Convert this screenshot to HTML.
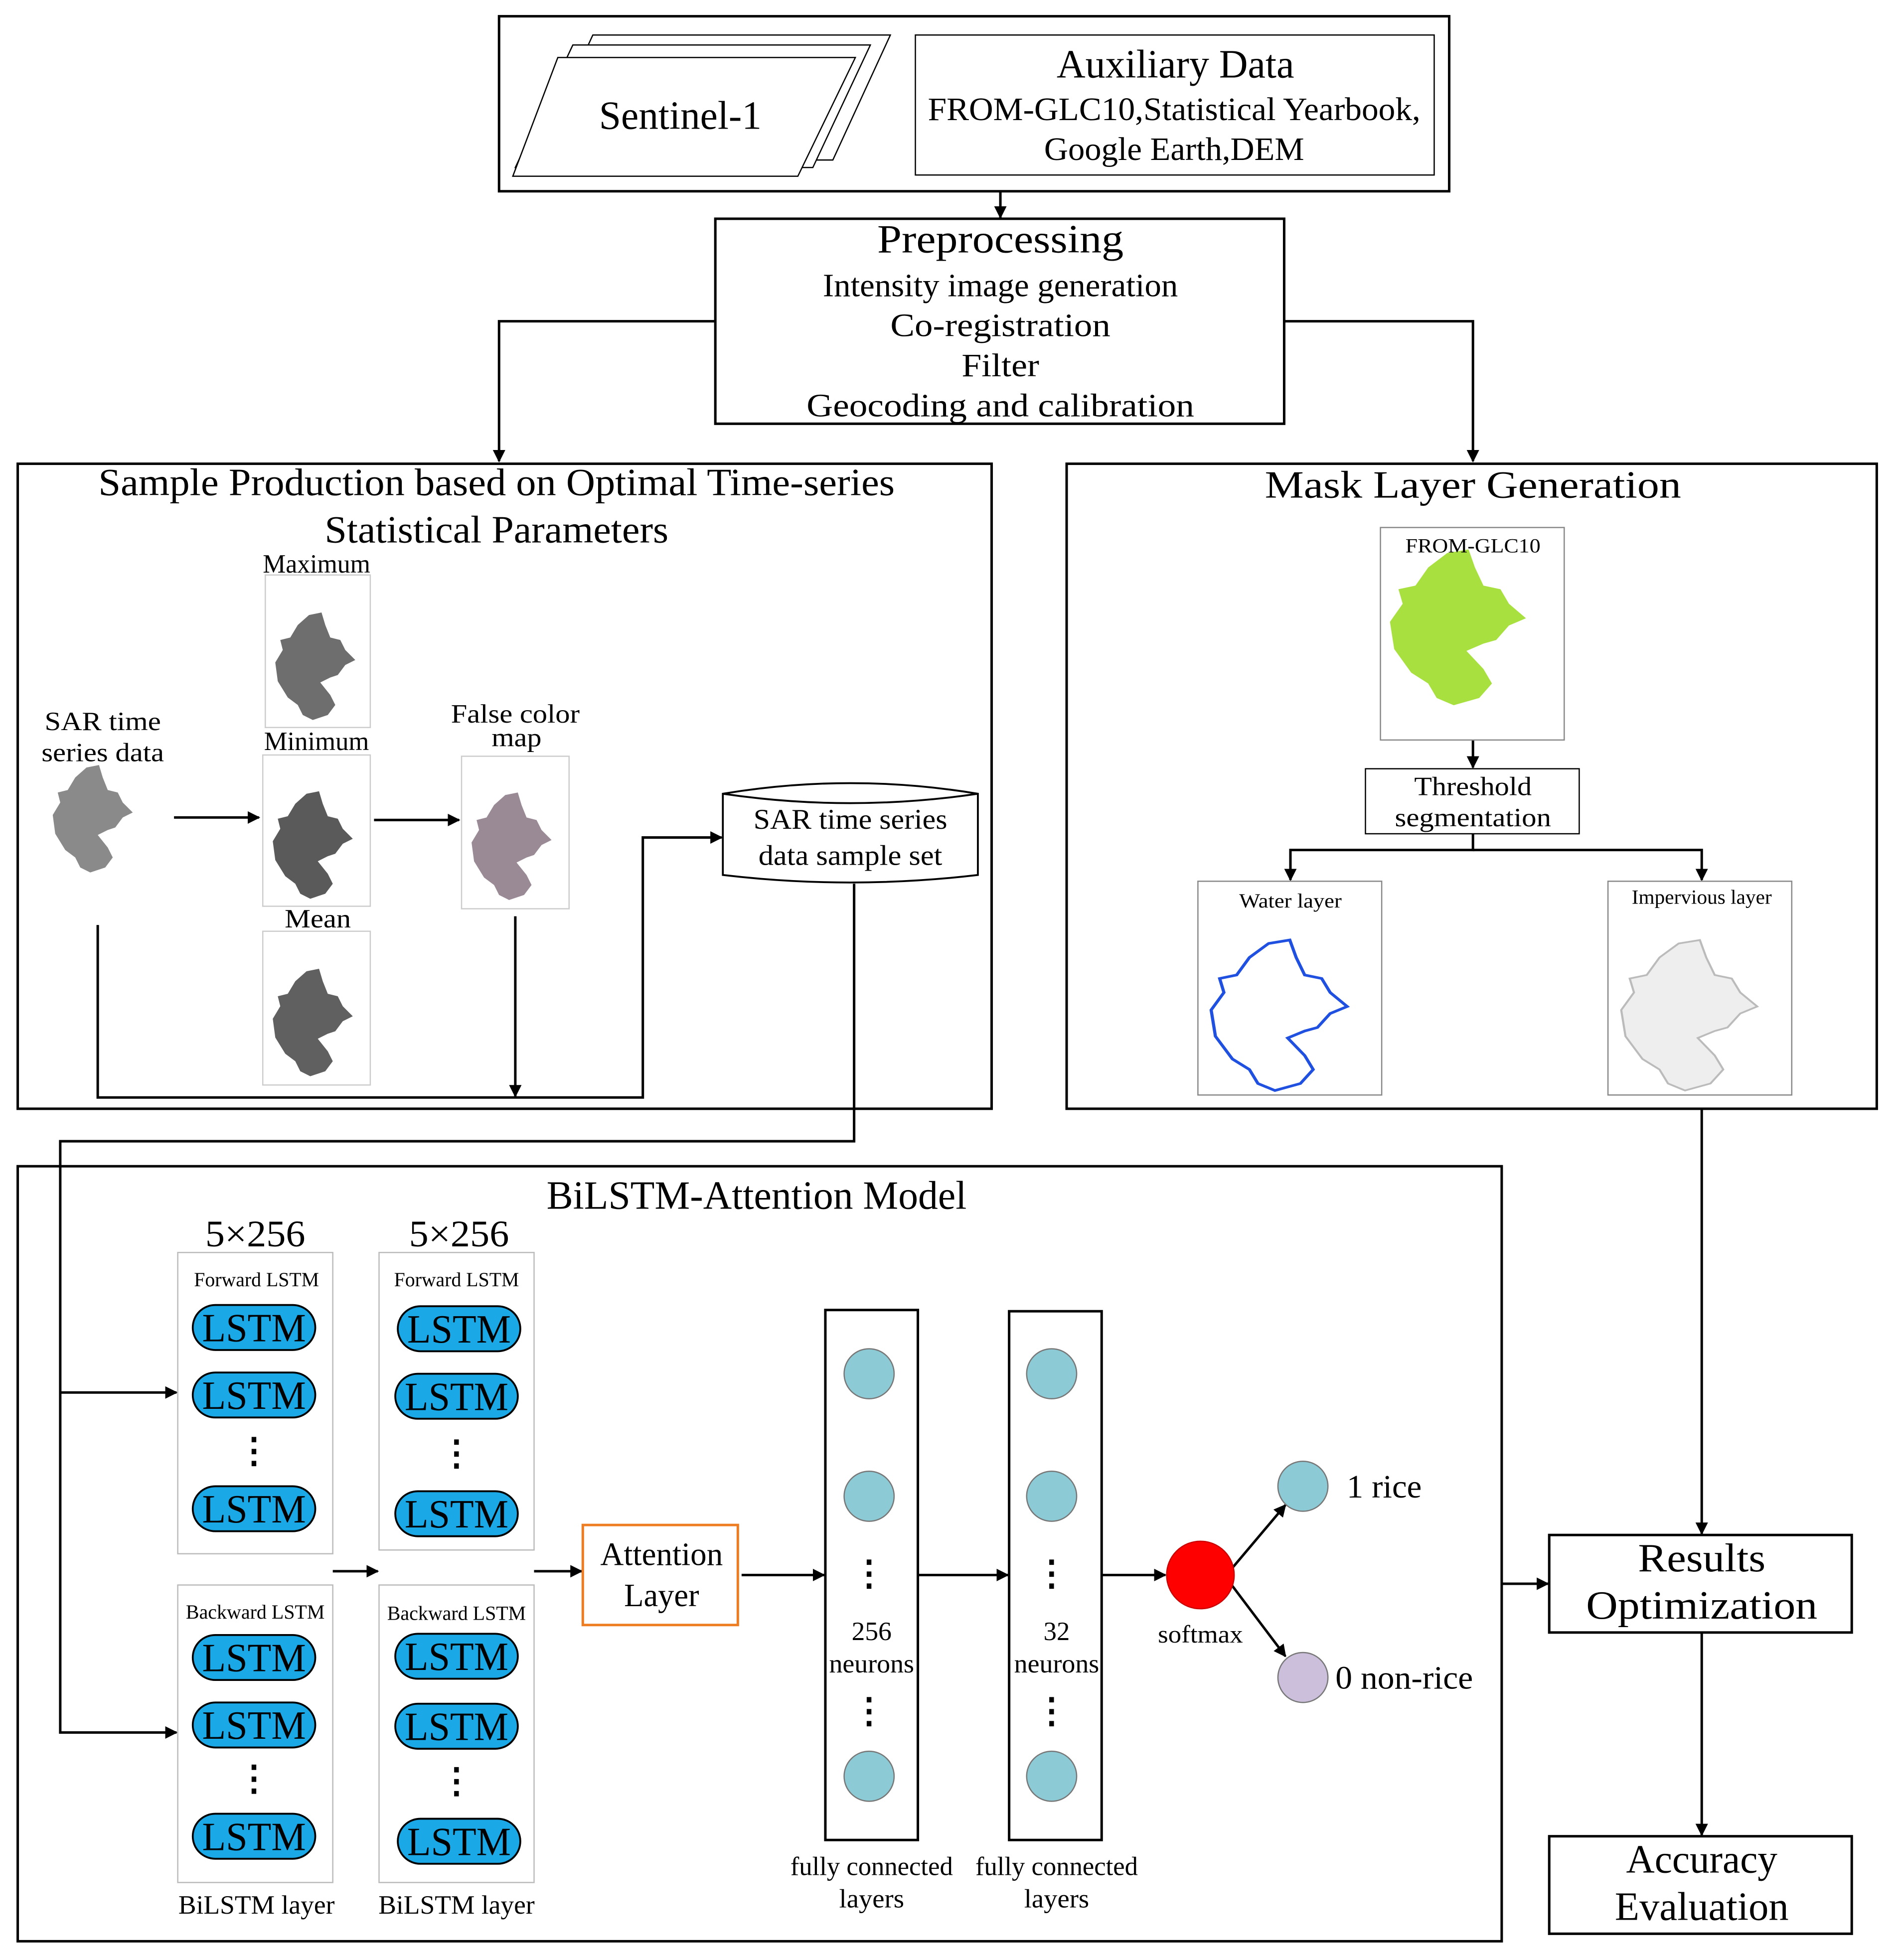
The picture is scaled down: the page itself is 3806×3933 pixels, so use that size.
<!DOCTYPE html>
<html><head><meta charset="utf-8"><style>
html,body{margin:0;padding:0;background:#fff}
svg{display:block}
text{font-family:"Liberation Serif","Times New Roman",serif;fill:#000}
</style></head><body>
<svg width="3806" height="3933" viewBox="0 0 1517 1568" xmlns="http://www.w3.org/2000/svg">
<defs>
<marker id="ar" markerWidth="10" markerHeight="10" refX="9" refY="5" orient="auto" markerUnits="userSpaceOnUse"><path d="M0,0 L10,5 L0,10 Z" fill="#000"/></marker>
<path id="map" d="M35,32 L45,30 L48,40 L52,50 L60,52 L64,60 L72,68 L64,72 L58,80 L52,82 L44,86 L52,96 L56,104 L50,112 L38,116 L30,112 L26,104 L18,98 L10,85 L8,70 L14,60 L12,52 L20,50 L26,40 Z"/>
</defs>
<rect width="1517" height="1568" fill="#fff"/>
<g fill="none" stroke="#000" stroke-width="2">
<rect x="399" y="13" width="760" height="140"/>
<polygon points="474,28 712,28 666,128 428,128" fill="#fff" stroke-width="1"/>
<polygon points="458,36 696,36 650,134 412,134" fill="#fff" stroke-width="1"/>
<polygon points="446,46 684,46 638,141 410,141" fill="#fff" stroke-width="1"/>
<rect x="732" y="28" width="415" height="112" stroke-width="1"/>
<rect x="572" y="175" width="455" height="164"/>
<rect x="14" y="371" width="779" height="516"/>
<rect x="853" y="371" width="648" height="516"/>
<rect x="14" y="933" width="1187" height="620"/>
<rect x="1239" y="1228" width="242" height="78"/>
<rect x="1239" y="1469" width="242" height="78"/>
<rect x="1092" y="615" width="171" height="52" stroke-width="1"/>
<rect x="660" y="1048" width="74" height="424"/>
<rect x="807" y="1049" width="74" height="423"/>
</g>
<g fill="none" stroke="#000" stroke-width="2" marker-end="url(#ar)">
<path d="M800,153 V174"/>
<path d="M572,257 H399 V369"/>
<path d="M1027,257 H1178 V369"/>
<path d="M139,654 H207"/>
<path d="M299,656 H367"/>
<path d="M78,740 V878 H514 V670 H577"/>
<path d="M412,733 V877"/>
<path d="M683,707 V913 H48 V1386 H141"/>
<path d="M48,1114 H141"/>
<path d="M266,1257 H302"/>
<path d="M427,1257 H465"/>
<path d="M593,1260 H659"/>
<path d="M734,1260 H806"/>
<path d="M881,1260 H932"/>
<path d="M985,1255 L1028,1204"/>
<path d="M985,1268 L1028,1325"/>
<path d="M1361,887 L1361,1227"/>
<path d="M1201,1267 H1238"/>
<path d="M1361,1306 V1468"/>
<path d="M1178,592 V614"/>
<path d="M1178,667 V680 H1032 V704"/>
<path d="M1178,680 H1361 V704"/>
</g>
<path d="M578,635 Q680,618 782,635 V700 Q680,712 578,700 Z" fill="#fff" stroke="#000" stroke-width="1.5"/>
<path d="M578,635 Q680,650 782,635" fill="none" stroke="#000" stroke-width="1.5"/>
<g stroke="#ccc" stroke-width="1" fill="#fff">
<rect x="212" y="460" width="84" height="122"/>
<rect x="210" y="604" width="86" height="121"/>
<rect x="210" y="745" width="86" height="123"/>
<rect x="369" y="605" width="86" height="122"/>
<rect x="1104" y="422" width="147" height="170" stroke="#888"/>
<rect x="958" y="705" width="147" height="171" stroke="#888"/>
<rect x="1286" y="705" width="147" height="171" stroke="#888"/>
</g>
<use href="#map" transform="translate(212,460)" fill="#6e6e6e"/>
<use href="#map" transform="translate(210,603)" fill="#5a5a5a"/>
<use href="#map" transform="translate(210,745)" fill="#606060"/>
<use href="#map" transform="translate(369,604)" fill="#9a8a95"/>
<use href="#map" transform="translate(34,582)" fill="#8a8a8a"/>
<use href="#map" transform="translate(1098,396) scale(1.7,1.45)" fill="#a8e040"/>
<use href="#map" transform="translate(955,710) scale(1.7,1.4)" fill="none" stroke="#2050e0" stroke-width="1.5"/>
<use href="#map" transform="translate(1283,710) scale(1.7,1.4)" fill="#eee" stroke="#bbb" stroke-width="1"/>
<g fill="#fff" stroke="#bbb" stroke-width="1">
<rect x="142" y="1002" width="124" height="241"/>
<rect x="303" y="1002" width="124" height="238"/>
<rect x="142" y="1268" width="124" height="238"/>
<rect x="303" y="1268" width="124" height="238"/>
</g>
<g fill="#1aa8e6" stroke="#000" stroke-width="1.5">
<rect x="154" y="1044" width="98" height="36" rx="18"/>
<rect x="154" y="1098" width="98" height="36" rx="18"/>
<rect x="154" y="1189" width="98" height="36" rx="18"/>
<rect x="318" y="1045" width="98" height="36" rx="18"/>
<rect x="316" y="1099" width="98" height="36" rx="18"/>
<rect x="316" y="1193" width="98" height="36" rx="18"/>
<rect x="154" y="1308" width="98" height="36" rx="18"/>
<rect x="154" y="1362" width="98" height="36" rx="18"/>
<rect x="154" y="1451" width="98" height="36" rx="18"/>
<rect x="316" y="1307" width="98" height="36" rx="18"/>
<rect x="316" y="1363" width="98" height="36" rx="18"/>
<rect x="318" y="1455" width="98" height="36" rx="18"/>
</g>
<g font-size="32" text-anchor="middle">
<text x="203" y="1073" textLength="83" lengthAdjust="spacingAndGlyphs">LSTM</text><text x="203" y="1127" textLength="83" lengthAdjust="spacingAndGlyphs">LSTM</text><text x="203" y="1218" textLength="83" lengthAdjust="spacingAndGlyphs">LSTM</text>
<text x="367" y="1074" textLength="83" lengthAdjust="spacingAndGlyphs">LSTM</text><text x="365" y="1128" textLength="83" lengthAdjust="spacingAndGlyphs">LSTM</text><text x="365" y="1222" textLength="83" lengthAdjust="spacingAndGlyphs">LSTM</text>
<text x="203" y="1337" textLength="83" lengthAdjust="spacingAndGlyphs">LSTM</text><text x="203" y="1391" textLength="83" lengthAdjust="spacingAndGlyphs">LSTM</text><text x="203" y="1480" textLength="83" lengthAdjust="spacingAndGlyphs">LSTM</text>
<text x="365" y="1336" textLength="83" lengthAdjust="spacingAndGlyphs">LSTM</text><text x="365" y="1392" textLength="83" lengthAdjust="spacingAndGlyphs">LSTM</text><text x="367" y="1484" textLength="83" lengthAdjust="spacingAndGlyphs">LSTM</text>
</g>
<g font-size="28" text-anchor="middle" font-weight="bold">
<text x="203" y="1170">⋮</text><text x="365" y="1172">⋮</text><text x="203" y="1432">⋮</text><text x="365" y="1434">⋮</text>
<text x="695" y="1268">⋮</text><text x="695" y="1378">⋮</text><text x="841" y="1268">⋮</text><text x="841" y="1378">⋮</text>
</g>
<rect x="466" y="1220" width="124" height="80" fill="#fff" stroke="#ee7d22" stroke-width="2"/>
<g fill="#8ccbd6" stroke="#777" stroke-width="1">
<circle cx="695" cy="1099" r="20"/><circle cx="695" cy="1197" r="20"/><circle cx="695" cy="1421" r="20"/>
<circle cx="841" cy="1099" r="20"/><circle cx="841" cy="1197" r="20"/><circle cx="841" cy="1421" r="20"/>
<circle cx="1042" cy="1189" r="20"/>
</g>
<circle cx="1042" cy="1342" r="20" fill="#cbbfdc" stroke="#777"/>
<circle cx="960" cy="1260" r="27" fill="#ff0000" stroke="#c00"/>
<g text-anchor="middle">
<text x="544" y="103" font-size="32" textLength="130" lengthAdjust="spacingAndGlyphs">Sentinel-1</text>
<text x="940" y="62" font-size="32" textLength="190" lengthAdjust="spacingAndGlyphs">Auxiliary Data</text>
<text x="939" y="96" font-size="26" textLength="394" lengthAdjust="spacingAndGlyphs">FROM-GLC10,Statistical Yearbook,</text>
<text x="939" y="128" font-size="26" textLength="208" lengthAdjust="spacingAndGlyphs">Google Earth,DEM</text>
<text x="800" y="202" font-size="32" textLength="197" lengthAdjust="spacingAndGlyphs">Preprocessing</text>
<text x="800" y="237" font-size="26" textLength="284" lengthAdjust="spacingAndGlyphs">Intensity image generation</text>
<text x="800" y="269" font-size="26" textLength="176" lengthAdjust="spacingAndGlyphs">Co-registration</text>
<text x="800" y="301" font-size="26" textLength="62" lengthAdjust="spacingAndGlyphs">Filter</text>
<text x="800" y="333" font-size="26" textLength="310" lengthAdjust="spacingAndGlyphs">Geocoding and calibration</text>
<text x="397" y="396" font-size="31" textLength="637" lengthAdjust="spacingAndGlyphs">Sample Production based on Optimal Time-series</text>
<text x="397" y="434" font-size="31" textLength="275" lengthAdjust="spacingAndGlyphs">Statistical Parameters</text>
<text x="1178" y="398" font-size="31" textLength="333" lengthAdjust="spacingAndGlyphs">Mask Layer Generation</text>
<text x="253" y="458" font-size="21" textLength="86" lengthAdjust="spacingAndGlyphs">Maximum</text>
<text x="253" y="600" font-size="21" textLength="84" lengthAdjust="spacingAndGlyphs">Minimum</text>
<text x="254" y="742" font-size="21" textLength="53" lengthAdjust="spacingAndGlyphs">Mean</text>
<text x="82" y="584" font-size="21" textLength="93" lengthAdjust="spacingAndGlyphs">SAR time</text>
<text x="82" y="609" font-size="21" textLength="98" lengthAdjust="spacingAndGlyphs">series data</text>
<text x="412" y="578" font-size="21" textLength="103" lengthAdjust="spacingAndGlyphs">False color</text>
<text x="413" y="597" font-size="21" textLength="40" lengthAdjust="spacingAndGlyphs">map</text>
<text x="680" y="663" font-size="23" textLength="155" lengthAdjust="spacingAndGlyphs">SAR time series</text>
<text x="680" y="692" font-size="23" textLength="147" lengthAdjust="spacingAndGlyphs">data sample set</text>
<text x="1178" y="442" font-size="16" textLength="108" lengthAdjust="spacingAndGlyphs">FROM-GLC10</text>
<text x="1178" y="636" font-size="21" textLength="94" lengthAdjust="spacingAndGlyphs">Threshold</text>
<text x="1178" y="661" font-size="21" textLength="125" lengthAdjust="spacingAndGlyphs">segmentation</text>
<text x="1032" y="726" font-size="16" textLength="82" lengthAdjust="spacingAndGlyphs">Water layer</text>
<text x="1361" y="723" font-size="16" textLength="112" lengthAdjust="spacingAndGlyphs">Impervious layer</text>
<text x="605" y="967" font-size="32" textLength="336" lengthAdjust="spacingAndGlyphs">BiLSTM-Attention Model</text>
<text x="204" y="997" font-size="30" textLength="80" lengthAdjust="spacingAndGlyphs">5×256</text>
<text x="367" y="997" font-size="30" textLength="80" lengthAdjust="spacingAndGlyphs">5×256</text>
<text x="205" y="1029" font-size="16" textLength="100" lengthAdjust="spacingAndGlyphs">Forward LSTM</text>
<text x="365" y="1029" font-size="16" textLength="100" lengthAdjust="spacingAndGlyphs">Forward LSTM</text>
<text x="204" y="1295" font-size="16" textLength="111" lengthAdjust="spacingAndGlyphs">Backward LSTM</text>
<text x="365" y="1296" font-size="16" textLength="111" lengthAdjust="spacingAndGlyphs">Backward LSTM</text>
<text x="205" y="1531" font-size="21" textLength="125" lengthAdjust="spacingAndGlyphs">BiLSTM layer</text>
<text x="365" y="1531" font-size="21" textLength="125" lengthAdjust="spacingAndGlyphs">BiLSTM layer</text>
<text x="529" y="1252" font-size="26" textLength="98" lengthAdjust="spacingAndGlyphs">Attention</text>
<text x="529" y="1285" font-size="26" textLength="60" lengthAdjust="spacingAndGlyphs">Layer</text>
<text x="697" y="1312" font-size="21" textLength="32" lengthAdjust="spacingAndGlyphs">256</text>
<text x="697" y="1338" font-size="21" textLength="68" lengthAdjust="spacingAndGlyphs">neurons</text>
<text x="845" y="1312" font-size="21" textLength="21" lengthAdjust="spacingAndGlyphs">32</text>
<text x="845" y="1338" font-size="21" textLength="68" lengthAdjust="spacingAndGlyphs">neurons</text>
<text x="697" y="1500" font-size="21" textLength="130" lengthAdjust="spacingAndGlyphs">fully connected</text>
<text x="697" y="1526" font-size="21" textLength="52" lengthAdjust="spacingAndGlyphs">layers</text>
<text x="845" y="1500" font-size="21" textLength="130" lengthAdjust="spacingAndGlyphs">fully connected</text>
<text x="845" y="1526" font-size="21" textLength="52" lengthAdjust="spacingAndGlyphs">layers</text>
<text x="960" y="1314" font-size="20" textLength="68" lengthAdjust="spacingAndGlyphs">softmax</text>
<text x="1361" y="1257" font-size="32" textLength="102" lengthAdjust="spacingAndGlyphs">Results</text>
<text x="1361" y="1295" font-size="32" textLength="185" lengthAdjust="spacingAndGlyphs">Optimization</text>
<text x="1361" y="1498" font-size="32" textLength="121" lengthAdjust="spacingAndGlyphs">Accuracy</text>
<text x="1361" y="1536" font-size="32" textLength="139" lengthAdjust="spacingAndGlyphs">Evaluation</text>
</g>
<text x="1077" y="1198" font-size="26" textLength="60" lengthAdjust="spacingAndGlyphs">1 rice</text>
<text x="1068" y="1351" font-size="26" textLength="110" lengthAdjust="spacingAndGlyphs">0 non-rice</text>
</svg>
</body></html>
